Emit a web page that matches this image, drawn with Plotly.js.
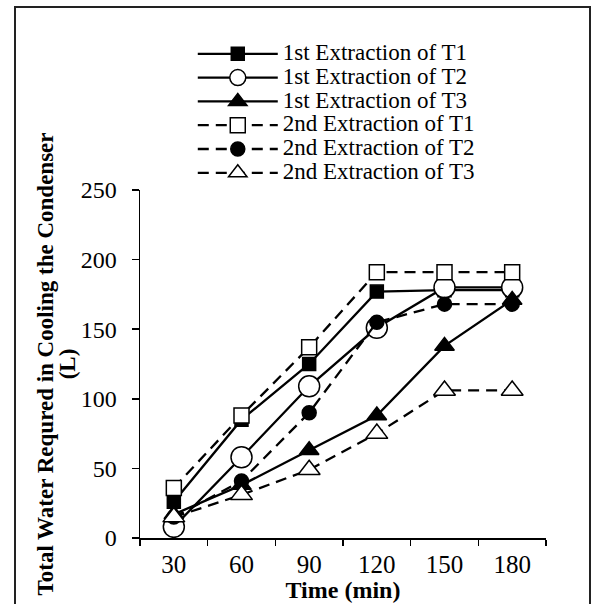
<!DOCTYPE html>
<html>
<head>
<meta charset="utf-8">
<script src="https://cdn.plot.ly/plotly-3.0.1.min.js"></script>
<style>
  html, body { margin: 0; padding: 0; background: #fff; }
  #wrap { position: relative; width: 594px; height: 604px; }
  #chart { position: absolute; left: 0; top: 0; width: 594px; height: 604px; }
  #frame { position: absolute; left: 14px; top: 6px; width: 573px; height: 620px;
           border-left: 2px solid #222; border-top: 2px solid #222; border-right: 2px solid #222;
           pointer-events: none; }
</style>
</head>
<body>
<div id="wrap">
  <div id="chart"></div>
  <div id="frame"></div>
</div>
<script>
const times = ["30", "60", "90", "120", "150", "180"];
const seriesNames = [
  "1st Extraction of T1", "1st Extraction of T2", "1st Extraction of T3",
  "2nd Extraction of T1", "2nd Extraction of T2", "2nd Extraction of T3"
];
const first_T1  = [26, 85, 125, 177, 178, 178];
const first_T2  = [8, 58, 109, 151, 180, 180];
const first_T3  = [17, 38, 63, 88, 138, 171];
const second_T1 = [36, 88, 137, 191, 191, 191];
const second_T2 = [15, 41, 90, 155, 168, 168];
const second_T3 = [15, 31, 49, 75, 106, 106];

const fontFam = '"Liberation Serif", "Times New Roman", serif';

function big(s, px) { return '<span style="font-size:' + px + 'px">' + s + '</span>'; }

function tr(name, y, dash, symbol, size, fill) {
  return {
    x: times, y: y, name: big(name, 23), type: 'scatter', mode: 'lines+markers',
    line: { color: '#000', width: 2.3, dash: dash },
    marker: { symbol: symbol, size: size, color: fill, line: { color: '#000', width: 1.5 } }
  };
}

const DASH = '11px,7px';
const data = [
  tr(seriesNames[0], first_T1, 'solid', 'square', 13, '#000'),
  tr(seriesNames[1], first_T2, 'solid', 'circle', 21, '#fff'),
  tr(seriesNames[2], first_T3, 'solid', 'triangle-up', 17, '#000'),
  tr(seriesNames[3], second_T1, DASH, 'square', 15, '#fff'),
  tr(seriesNames[4], second_T2, DASH, 'circle', 14, '#000'),
  tr(seriesNames[5], second_T3, DASH, 'triangle-up', 19, '#fff')
];

const layout = {
  width: 594, height: 604,
  margin: { l: 140, r: 48, t: 190, b: 66 },
  paper_bgcolor: '#fff', plot_bgcolor: '#fff',
  font: { family: fontFam, size: 22, color: '#000' },
  showlegend: true,
  legend: {
    x: 0.13, xanchor: 'left', y: 1.44, yanchor: 'top',
    bgcolor: 'rgba(0,0,0,0)', itemwidth: 80, tracegroupgap: 0,
    font: { family: fontFam, size: 16, color: '#000' }
  },
  xaxis: {
    type: 'category', range: [-0.5, 5.5],
    showline: true, linecolor: '#000', linewidth: 1.5,
    ticks: 'outside', tickson: 'boundaries', ticklen: 6, tickcolor: '#000', tickwidth: 1.5,
    ticklabelstandoff: 3,
    showgrid: false, zeroline: false,
    tickfont: { family: fontFam, size: 25, color: '#000' },
    title: { text: big('<b>Time (min)</b>', 24), font: { family: fontFam, size: 17, color: '#000' }, standoff: 0 }
  },
  yaxis: {
    range: [0, 250], dtick: 50, tick0: 0,
    showline: true, linecolor: '#000', linewidth: 1.5,
    ticks: 'outside', ticklen: 7, tickcolor: '#000', tickwidth: 1.5,
    ticklabelstandoff: 10,
    showgrid: false, zeroline: false,
    tickfont: { family: fontFam, size: 24, color: '#000' },
    title: { text: big('<b>Total Water Requred in Cooling the Condenser</b>', 23) + '<br>' + big('<b>(L)</b>', 23),
             font: { family: fontFam, size: 17, color: '#000' }, standoff: 0 }
  }
};

Plotly.newPlot('chart', data, layout, { staticPlot: true, displayModeBar: false });
</script>
</body>
</html>
